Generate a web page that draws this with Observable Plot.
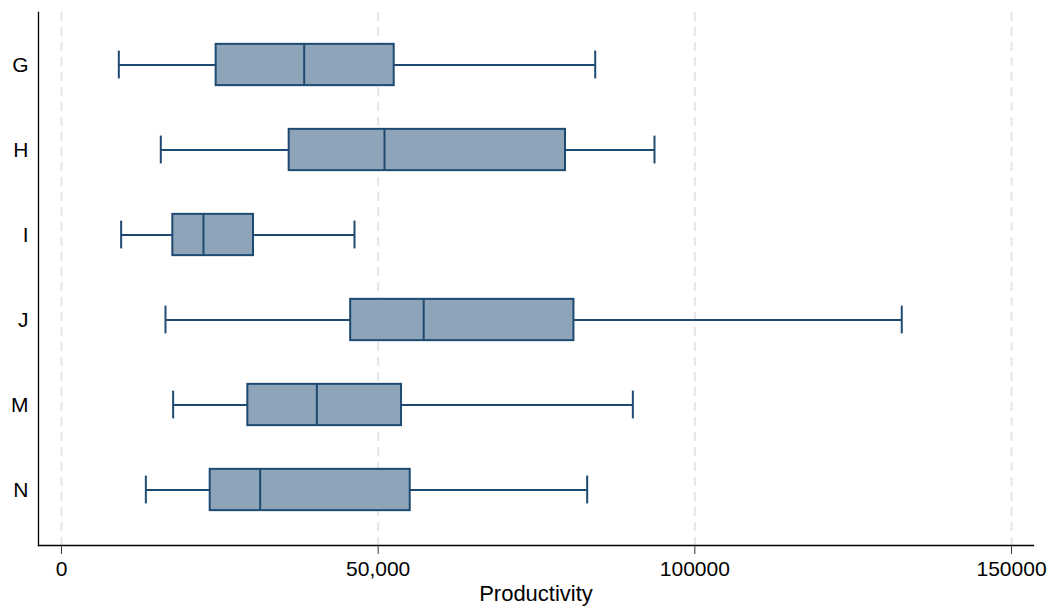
<!DOCTYPE html>
<html>
<head>
<meta charset="utf-8">
<script src="https://cdn.jsdelivr.net/npm/d3@7"></script>
<script src="https://cdn.jsdelivr.net/npm/@observablehq/plot@0.6"></script>
<style>
  html, body { margin: 0; padding: 0; background: #fff; }
  #chart svg { display: block; }
</style>
</head>
<body>
<div id="chart"></div>
<script>
const categories = ["G", "H", "I", "J", "M", "N"];
const lowerWhisker = [9050, 15680, 9420, 16420, 17630, 13320];
const q1Values = [24420, 35950, 17580, 45660, 29420, 23480];
const medianValues = [38320, 51000, 22420, 57190, 40320, 31370];
const q3Values = [52530, 79580, 30320, 80910, 53690, 55060];
const upperWhisker = [84270, 93630, 46260, 132670, 90210, 83000];
const xTicks = [0, 50000, 100000, 150000];
const xTickLabels = ["0", "50,000", "100000", "150000"];
const xLabel = "Productivity";

const rows = categories.map((c, i) => ({
  cat: c, lo: lowerWhisker[i], q1: q1Values[i], med: medianValues[i], q3: q3Values[i], hi: upperWhisker[i]
}));

const stroke = "#1e4a72";
const fill = "#8ea5b9";
const boxInset = 21.85;
const capInset = 28.6;

const chart = Plot.plot({
  width: 1050,
  height: 606,
  marginLeft: 38,
  marginRight: 17,
  marginTop: 12,
  marginBottom: 61,
  style: { fontFamily: "'Liberation Sans', Arial, Helvetica, sans-serif", background: "#fff", overflow: "visible" },
  x: { domain: [-3630, 153470] },
  y: { domain: categories, paddingInner: 0, paddingOuter: 0.128, align: 0.43 },
  marks: [
    Plot.ruleX(xTicks, { stroke: "#e6e6e6", strokeWidth: 2, strokeDasharray: "9,6" }),
    Plot.ruleY(rows, { y: "cat", x1: "lo", x2: "q1", stroke, strokeWidth: 1.8 }),
    Plot.ruleY(rows, { y: "cat", x1: "q3", x2: "hi", stroke, strokeWidth: 1.8 }),
    Plot.tickX(rows, { y: "cat", x: "lo", stroke, strokeWidth: 2, insetTop: capInset, insetBottom: capInset }),
    Plot.tickX(rows, { y: "cat", x: "hi", stroke, strokeWidth: 2, insetTop: capInset, insetBottom: capInset }),
    Plot.barX(rows, { y: "cat", x1: "q1", x2: "q3", fill, stroke, strokeWidth: 2, insetTop: boxInset, insetBottom: boxInset }),
    Plot.tickX(rows, { y: "cat", x: "med", stroke, strokeWidth: 2, insetTop: boxInset, insetBottom: boxInset }),
    Plot.frame({ anchor: "left", stroke: "#000", strokeWidth: 1.3 }),
    Plot.frame({ anchor: "bottom", stroke: "#000", strokeWidth: 1.3 }),
    Plot.axisY({ tickSize: 0, tickPadding: 10, fontSize: 21, label: null, color: "#000" }),
    Plot.axisX({
      ticks: xTicks,
      tickFormat: (d) => xTickLabels[xTicks.indexOf(d)],
      tickSize: 9,
      tickPadding: 7,
      fontSize: 21,
      stroke: "#333",
      color: "#000",
      label: null
    }),
    Plot.text([xLabel], { frameAnchor: "bottom", lineAnchor: "bottom", dy: 55, fontSize: 22, fill: "#000" })
  ]
});
document.getElementById("chart").appendChild(chart);
</script>
</body>
</html>
